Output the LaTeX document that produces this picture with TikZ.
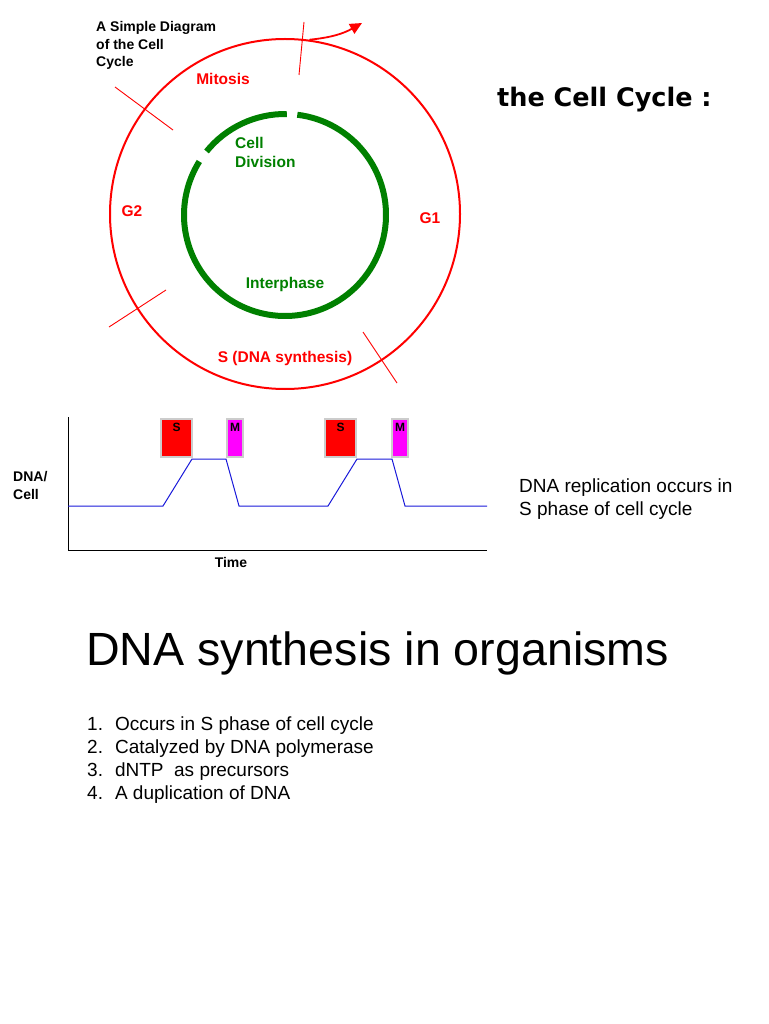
\documentclass[tikz,border=0pt]{standalone}
\usepackage{fontspec}
\setmainfont{Liberation Sans}
\newfontfamily\titolofont{DejaVu Sans}
\usetikzlibrary{positioning,arrows.meta}
\definecolor{darkgreen}{rgb}{0.0, 0.5, 0.0}
\definecolor{linea_blu}{rgb}{0.1, 0.1, 0.85}
\definecolor{fucsia}{rgb}{1.0, 0.0, 1.0}

\begin{document}
\begin{tikzpicture}[x=1pt,y=1pt]
    % Stili
    \tikzset{
        fase_label/.style={
            text=red,
            font=\bfseries\fontsize{15.5}{18}\selectfont,
            inner sep=0pt
        },
        verde_label/.style={
            text=darkgreen,
            font=\bfseries\fontsize{15.5}{19}\selectfont,
            inner sep=0pt,
            align=left
        },
        nero_label/.style={
            text=black,
            font=\bfseries\fontsize{14}{17.5}\selectfont,
            inner sep=0pt,
            align=left
        },
        tacca/.style={
            draw=red,
            line width=0.9pt
        },
        fase_box/.style={
            draw=black!20,
            line width=1.5pt,
            minimum height=38,
            inner sep=0pt,
            outer sep=0pt
        },
        box_text/.style={
            font=\bfseries\fontsize{12}{12}\selectfont,
            inner sep=0pt
        },
        testo/.style={
            font=\fontsize{19}{23}\selectfont,
            inner sep=0pt,
            align=left
        }
    }

    \useasboundingbox (0,0) rectangle (768,-1024);

    % Ciclo esterno (rosso)
    \node[circle, draw=red, line width=2pt, minimum size=350, inner sep=0pt] (ciclo) at (285,-214) {};
    \coordinate (centro) at (285,-215);

    % Ciclo interno (verde)
    \draw[darkgreen, line width=6pt] ([shift={(83:101)}]centro) arc[start angle=83, end angle=-212, radius=101];
    \draw[darkgreen, line width=6pt] ([shift={(89:101)}]centro) arc[start angle=89, end angle=141, radius=101];

    % Tacche tra le fasi
    \draw[tacca] (304,-22) -- (299,-75);
    \draw[tacca] (115,-87) -- (173,-130);
    \draw[tacca] (109,-327) -- (166,-290);
    \draw[tacca] (363,-332) -- (397,-383);

    % Freccia
    \coordinate (freccia_fine) at (362,-23);
    \draw[red, line width=1.8pt, -{Triangle[length=12pt,width=11pt]}] (ciclo.82) to[bend right=12] (freccia_fine);

    % Etichette del ciclo
    \node[nero_label, anchor=base west] (titolo_ciclo) at (96,-67) {A Simple Diagram\\of the Cell\\Cycle};
    \node[fase_label] (mitosi) at (223,-79) {Mitosis};
    \node[fase_label] (g2) at (132,-211) {G2};
    \node[fase_label] (g1) at (430,-218) {G1};
    \node[fase_label] (sintesi) at (285,-358) {S (DNA synthesis)};
    \node[verde_label, anchor=base west] (divisione) at (235,-168) {Cell\\Division};
    \node[verde_label] (interfase) at (285,-284) {Interphase};

    % Titolo a destra
    \node[font=\titolofont\bfseries\fontsize{25.5}{28}\selectfont, inner sep=0pt, anchor=base west] (titolo) at (497,-107) {the Cell Cycle :};

    % Grafico DNA/Cell
    \coordinate (asse_alto) at (68,-417);
    \coordinate (asse_destra) at (487,-550);
    \draw[black, line width=1pt] (asse_alto) |- (asse_destra);

    \node[fase_box, fill=red, minimum width=31] (s1) at (176.5,-438) {};
    \node[fase_box, fill=fucsia, minimum width=16] (m1) at (235,-438) {};
    \node[fase_box, fill=red, minimum width=31] (s2) at (340.5,-438) {};
    \node[fase_box, fill=fucsia, minimum width=16] (m2) at (400,-438) {};

    \node[box_text, below=4pt of s1.north] (s1_text) {S};
    \node[box_text, below=4pt of m1.north] (m1_text) {M};
    \node[box_text, below=4pt of s2.north] (s2_text) {S};
    \node[box_text, below=4pt of m2.north] (m2_text) {M};

    \draw[linea_blu, line width=1pt] (68,-506) -- (163,-506) -- (192,-459) -- (226,-459) -- (239,-506)
        -- (328,-506) -- (357,-459) -- (392,-459) -- (405,-506) -- (487,-506);

    \node[nero_label, anchor=base west] (asse_y) at (13,-499) {DNA/\\Cell};
    \node[nero_label] (asse_x) at (231,-562) {Time};

    % Nota sulla replicazione
    \node[testo, anchor=base west] (nota) at (519,-515) {DNA replication occurs in\\S phase of cell cycle};

    % Titolo in basso
    \node[font=\fontsize{46.6}{50}\selectfont, inner sep=0pt, anchor=base west] (sintesi_titolo) at (86,-665) {DNA synthesis in organisms};

    % Elenco
    \node[testo, anchor=base west] (elenco) at (87,-799) {%
        1.\hspace{12pt}Occurs in S phase of cell cycle\\
        2.\hspace{12pt}Catalyzed by DNA polymerase\\
        3.\hspace{12pt}dNTP\ \ as precursors\\
        4.\hspace{12pt}A duplication of DNA};

\end{tikzpicture}
\end{document}
